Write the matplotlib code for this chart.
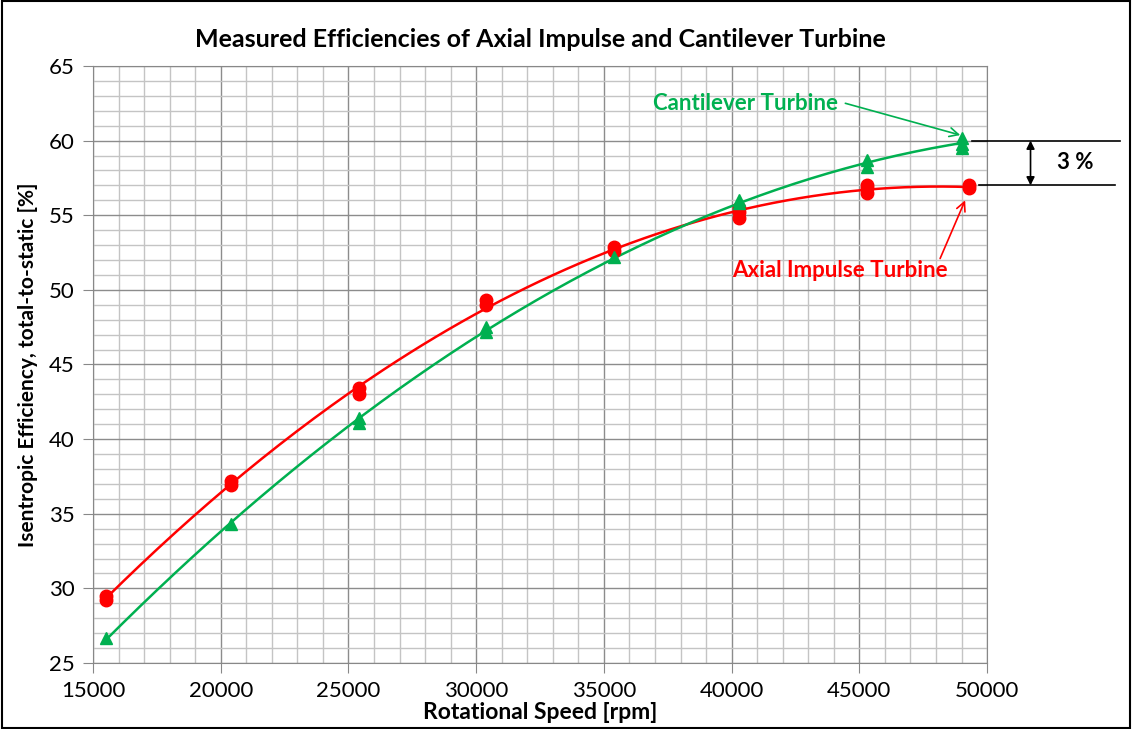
import numpy as np
import matplotlib.pyplot as plt

# measured points (rpm, isentropic efficiency %)
axial_rpm = [15500, 15500, 20400, 20400, 25400, 25400, 30400, 30400, 35400, 35400,
             40300, 40300, 40300, 45300, 45300, 45300, 49300, 49300]
axial_eff = [29.2, 29.5, 36.9, 37.2, 43.0, 43.4, 49.0, 49.3, 52.6, 52.9,
             54.8, 55.2, 55.5, 56.5, 56.8, 57.0, 56.8, 57.0]

cant_rpm = [15500, 20400, 25400, 25400, 30400, 30400, 35400, 40300, 40300,
            45300, 45300, 49000, 49000, 49000]
cant_eff = [26.7, 34.3, 41.1, 41.4, 47.2, 47.5, 52.2, 55.8, 56.0,
            58.2, 58.7, 59.5, 59.8, 60.2]

red = '#ff0000'
green = '#00b050'
plt.rcParams['font.family'] = ['Lato', 'DejaVu Sans']

fig = plt.figure(figsize=(11.32, 7.29), dpi=100)
ax = fig.add_axes([0.0822, 0.0905, 0.7898, 0.819])

# trendlines: 2nd order polynomial fit of the measurements (as in the original)
xs = np.linspace(min(axial_rpm), max(axial_rpm), 200)
ax.plot(xs, np.polyval(np.polyfit(axial_rpm, axial_eff, 2), xs), color=red, lw=1.8, zorder=3)
xs2 = np.linspace(min(cant_rpm), max(cant_rpm), 200)
ax.plot(xs2, np.polyval(np.polyfit(cant_rpm, cant_eff, 2), xs2), color=green, lw=1.8, zorder=3)

ax.plot(axial_rpm, axial_eff, 'o', color=red, ms=9, zorder=4)
ax.plot(cant_rpm, cant_eff, '^', color=green, ms=9, zorder=4)

ax.set_xlim(15000, 50000)
ax.set_ylim(25, 65)
ax.set_xticks(range(15000, 50001, 5000))
ax.set_yticks(range(25, 66, 5))
ax.set_xticks(range(15000, 50001, 1000), minor=True)
ax.set_yticks(range(25, 66, 1), minor=True)
ax.grid(which='major', color='#8c8c8c', lw=1.0, zorder=0)
ax.grid(which='minor', color='#c4c4c4', lw=1.0, zorder=0)
ax.set_axisbelow(True)
ax.tick_params(which='major', length=7, color='#888888', labelsize=16, pad=6)
ax.tick_params(which='minor', length=0)
for s in ax.spines.values():
    s.set_color('#888888')

ax.set_title('Measured Efficiencies of Axial Impulse and Cantilever Turbine',
             fontsize=18, fontweight='bold', pad=14)
ax.set_xlabel('Rotational Speed [rpm]', fontsize=16.5, fontweight='bold', labelpad=1)
ax.set_ylabel('Isentropic Efficiency, total-to-static [%]', fontsize=15, fontweight='bold', labelpad=8)

# labels with arrows
ax.text(40530, 62.5, 'Cantilever Turbine', color=green, fontsize=16, fontweight='bold',
        ha='center', va='center')
ax.annotate('', xy=(48950, 60.37), xytext=(44450, 62.5),
            arrowprops=dict(arrowstyle='->', color=green, lw=1.2, shrinkA=0, shrinkB=0,
                            mutation_scale=16))
ax.text(44250, 51.3, 'Axial Impulse Turbine', color=red, fontsize=16, fontweight='bold',
        ha='center', va='center')
ax.annotate('', xy=(49140, 56.0), xytext=(48160, 52.1),
            arrowprops=dict(arrowstyle='->', color=red, lw=1.2, shrinkA=0, shrinkB=0,
                            mutation_scale=16))

# 3 % difference marker
ax.plot([49400, 55200], [60, 60], color='black', lw=1.2, clip_on=False, zorder=5)
ax.plot([49700, 55000], [57, 57], color='black', lw=1.2, clip_on=False, zorder=5)
ax.annotate('', xy=(51700, 60), xytext=(51700, 57), annotation_clip=False,
            arrowprops=dict(arrowstyle='<|-|>', color='black', lw=1.2, shrinkA=0, shrinkB=0,
                            mutation_scale=12))
ax.text(53450, 58.5, '3 %', fontsize=16, fontweight='bold', ha='center', va='center')

# chart border
fig.patches.append(plt.Rectangle((0.002, 0.002), 0.996, 0.996, transform=fig.transFigure,
                                 fill=False, edgecolor='black', lw=1.5))

plt.savefig('out.png')
